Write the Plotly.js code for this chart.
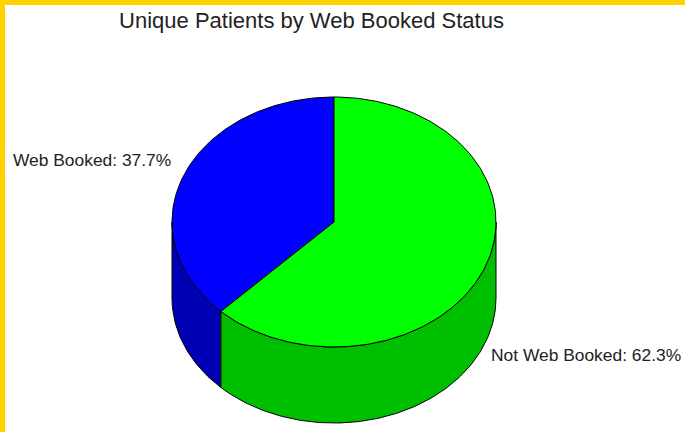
<!DOCTYPE html>
<html>
<head>
<meta charset="utf-8">
<script src="https://cdn.plot.ly/plotly-3.0.1.min.js"></script>
<style>
  html, body { margin: 0; padding: 0; }
  body { width: 685px; height: 432px; background: #FFD200; overflow: hidden; position: relative; }
  #chart { position: absolute; left: 5px; top: 5px; width: 680px; height: 427px; background: #fff; }
</style>
</head>
<body>
<div id="chart"></div>
<script>
// ---- data ----
const categories = ["Web Booked", "Not Web Booked"];
const percentages = [37.7, 62.3];
const topColors = ["#0000FF", "#00FF00"];
const sideColors = ["#0000B4", "#00BE00"];

// ---- geometry (layout constants) ----
const geo = { cx: 334, cy: 222, rx: 162, ry: 125, depth: 76 };

function pt(thetaDeg, dy) {
  const t = thetaDeg * Math.PI / 180;
  return [geo.cx + geo.rx * Math.cos(t), geo.cy - geo.ry * Math.sin(t) + (dy || 0)];
}
function arc(a1, a2, dy) {
  const n = Math.max(2, Math.ceil(Math.abs(a2 - a1) / 1));
  const xs = [], ys = [];
  for (let i = 0; i <= n; i++) {
    const p = pt(a1 + (a2 - a1) * i / n, dy);
    xs.push(p[0]); ys.push(p[1]);
  }
  return [xs, ys];
}

// slices: first slice starts at 12 o'clock and goes counter-clockwise
const total = percentages.reduce((a, b) => a + b, 0);
const slices = [];
let start = 90;
percentages.forEach((v, i) => {
  const sweep = v / total * 360;
  slices.push({ a1: start, a2: start + sweep, i });
  start += sweep;
});

const traces = [];
// side walls (visible front half: 180..360 degrees)
slices.forEach(s => {
  const lo = Math.max(s.a1, 180), hi = Math.min(s.a2, 360);
  if (hi > lo) {
    const [tx, ty] = arc(lo, hi, 0);
    const [bx, by] = arc(hi, lo, geo.depth);
    traces.push({
      type: "scatter", mode: "lines", fill: "toself",
      x: tx.concat(bx, [tx[0]]), y: ty.concat(by, [ty[0]]),
      fillcolor: sideColors[s.i], line: { color: "#000", width: 1 },
      hoverinfo: "skip", showlegend: false
    });
  }
});
// top faces
slices.forEach(s => {
  const [ax, ay] = arc(s.a1, s.a2, 0);
  traces.push({
    type: "scatter", mode: "lines", fill: "toself",
    x: [geo.cx].concat(ax, [geo.cx]), y: [geo.cy].concat(ay, [geo.cy]),
    fillcolor: topColors[s.i], line: { color: "#000", width: 1 },
    hoverinfo: "skip", showlegend: false
  });
});

const labelPos = [
  { x: 11, y: 160 },
  { x: 489, y: 355 }
];
const annotations = categories.map((c, i) => ({
  x: labelPos[i].x, y: labelPos[i].y, xref: "x", yref: "y",
  xanchor: "left", yanchor: "middle", showarrow: false,
  text: c + ": " + percentages[i].toFixed(1) + "%",
  font: { family: "Liberation Sans, Arial, sans-serif", size: 17.4, color: "#222" }
}));

const layout = {
  width: 680, height: 427,
  margin: { l: 0, r: 0, t: 0, b: 0 },
  paper_bgcolor: "#fff", plot_bgcolor: "#fff",
  title: {
    text: "Unique Patients by Web Booked Status",
    x: (311.5 - 5) / 680, xref: "paper", xanchor: "center",
    y: 1 - (20 - 5) / 427, yref: "paper", yanchor: "middle",
    font: { family: "Liberation Sans, Arial, sans-serif", size: 22, color: "#222" }
  },
  xaxis: { range: [5, 685], visible: false, fixedrange: true },
  yaxis: { range: [432, 5], visible: false, fixedrange: true },
  annotations: annotations,
  showlegend: false
};

Plotly.newPlot("chart", traces, layout, { displayModeBar: false, staticPlot: true });
</script>
</body>
</html>
